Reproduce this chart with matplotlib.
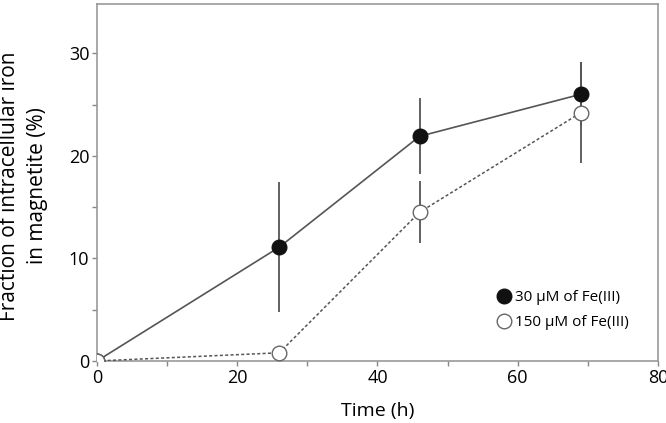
import matplotlib.pyplot as plt
import numpy as np

time_h = [0, 26, 46, 69]
low_fe = [0, 11.1, 21.9, 26.0]
low_fe_err = [0, 6.3, 3.7, 3.1]
high_fe = [0, 0.8, 14.5, 24.2]
high_fe_err = [0, 0, 3.0, 4.9]
labels = ['30 \u00b5M of Fe(III)', '150 \u00b5M of Fe(III)']

plt.rcParams['font.family'] = ['Open Sans', 'DejaVu Sans']

fig = plt.figure(figsize=(6.66, 4.23), dpi=100)
ax = fig.add_axes([0.1456, 0.1466, 0.8424, 0.844])

ax.errorbar(time_h, high_fe, yerr=high_fe_err, fmt='none', ecolor='#555555', elinewidth=1.3, zorder=2)
ax.errorbar(time_h, low_fe, yerr=low_fe_err, fmt='none', ecolor='#555555', elinewidth=1.3, zorder=2)
ax.plot(time_h, low_fe, linestyle='-', color='#555555', linewidth=1.2,
        marker='o', markersize=10.5, markerfacecolor='#111111', markeredgecolor='#111111',
        label=labels[0], zorder=3)
# open markers drawn on top (the 0 h point covers the filled one)
ax.plot(time_h, high_fe, linestyle=(0, (2, 1.5)), color='#555555', linewidth=1.1,
        marker='o', markersize=10.5, markerfacecolor='white', markeredgecolor='#666666',
        markeredgewidth=1.0, label=labels[1], zorder=4)

ax.set_xlim(0, 80)
ax.set_ylim(0, 34.8)
ax.set_xticks([0, 20, 40, 60, 80])
ax.set_xticks([10, 30, 50, 70], minor=True)
ax.set_yticks([0, 10, 20, 30])
ax.set_yticks([5, 15, 25], minor=True)
ax.tick_params(which='both', direction='out', length=3.5, width=1, color='#888888',
               labelsize=13, pad=2)
for s in ax.spines.values():
    s.set_color('#999999')
    s.set_linewidth(1.2)

ax.set_xlabel('Time (h)', fontsize=14, labelpad=11)
ax.set_ylabel('Fraction of intracellular iron\nin magnetite (%)', fontsize=15,
              linespacing=1.45)
ax.yaxis.set_label_coords(-0.087, 0.49)

h, l = ax.get_legend_handles_labels()
leg = ax.legend(h, l, loc='lower right', bbox_to_anchor=(0.972, 0.048),
                frameon=False, fontsize=11, handlelength=0.6, handletextpad=0.4,
                labelspacing=0.65, numpoints=1)
for lh in leg.legend_handles:
    lh.set_linestyle('none')

fig.savefig('out.png', dpi=100)
